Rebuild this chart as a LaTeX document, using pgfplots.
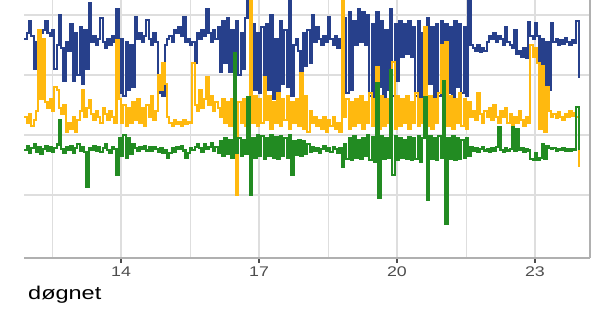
\documentclass[border=0pt]{standalone}
\usepackage{pgfplots}
\usepackage{pgfplotstable}
\usepackage{graphicx}
\usepackage{fontspec}
\setmainfont{Liberation Sans}
\pgfplotsset{compat=1.18}
\definecolor{bluec}{HTML}{27408B}
\definecolor{orangec}{HTML}{FFB90F}
\definecolor{greenc}{HTML}{228B22}
\definecolor{gridc}{HTML}{DEDEDE}
\definecolor{axc}{HTML}{B0B0B0}
\definecolor{tickc}{HTML}{4D4D4D}
\pgfplotstableread{
h b o g
11.90 3.60 2.30 1.75
11.95 3.70 2.20 1.82
12.00 3.90 2.35 1.70
12.05 3.65 2.15 1.78
12.10 3.10 2.25 1.85
12.15 3.55 2.40 1.72
12.20 3.60 3.75 1.80
12.25 3.70 2.60 1.68
12.30 3.75 3.60 1.76
12.35 3.90 2.55 1.82
12.40 3.70 2.45 1.74
12.45 3.65 2.60 1.80
12.50 3.75 2.40 1.72
12.55 3.10 2.80 1.78
12.60 3.50 2.75 1.84
12.65 4.00 2.45 2.25
12.70 3.45 2.35 1.76
12.75 2.90 2.50 1.70
12.80 3.55 2.05 1.80
12.85 3.40 2.20 1.75
12.90 3.85 2.10 1.82
12.95 2.90 2.30 1.70
13.00 3.70 2.05 1.78
13.05 3.00 2.25 1.85
13.10 3.80 2.40 1.74
13.15 2.85 2.75 1.80
13.20 3.75 2.30 1.72
13.25 3.10 2.45 1.13
13.30 4.20 2.58 1.78
13.35 3.55 2.35 1.75
13.40 3.65 2.25 1.82
13.45 3.50 2.40 1.74
13.50 3.60 2.30 1.79
13.55 3.95 2.20 1.72
13.60 3.55 2.45 1.78
13.65 3.45 2.35 1.84
13.70 3.60 2.25 1.75
13.75 3.50 2.40 1.70
13.80 3.65 2.30 1.80
13.85 3.55 2.20 1.76
13.90 4.10 3.58 1.33
13.95 2.70 2.60 1.95
14.00 3.60 2.20 1.65
14.05 2.65 2.50 2.00
14.10 3.55 2.15 1.62
14.15 2.75 2.45 1.95
14.20 3.50 2.20 1.68
14.25 2.80 2.55 1.85
14.30 3.97 2.25 1.78
14.35 3.60 2.60 1.74
14.40 3.70 2.20 1.80
14.45 3.55 2.45 1.76
14.50 3.65 2.15 1.82
14.55 3.92 2.50 1.74
14.60 3.60 2.30 1.79
14.65 3.50 2.65 1.73
14.70 3.70 2.25 1.80
14.75 3.55 2.40 1.76
14.80 2.70 3.00 1.72
14.85 2.80 2.75 1.78
14.90 2.65 3.20 1.70
14.95 3.50 2.85 1.75
15.00 3.60 2.30 1.62
15.05 3.65 2.20 1.70
15.10 3.55 2.15 1.78
15.15 3.75 2.25 1.72
15.20 3.70 2.18 1.80
15.25 3.80 2.22 1.76
15.30 3.65 2.15 1.82
15.35 3.97 2.25 1.74
15.40 3.55 2.18 1.62
15.45 3.60 2.22 1.70
15.50 3.50 2.20 1.78
15.55 3.55 3.20 1.75
15.60 3.20 2.50 1.80
15.65 3.70 2.40 1.85
15.70 3.60 2.75 1.78
15.75 3.75 2.45 1.72
15.80 3.65 2.60 1.84
15.85 4.10 2.97 1.76
15.90 3.70 2.50 1.80
15.95 3.55 2.65 1.86
16.00 3.75 2.40 1.74
16.05 3.60 2.55 1.80
16.10 3.80 2.45 1.70
16.15 3.05 2.30 1.90
16.20 3.90 2.60 1.65
16.25 3.20 2.20 1.95
16.30 3.95 2.55 1.68
16.35 3.05 2.15 1.92
16.40 3.75 2.60 1.62
16.45 3.15 2.25 3.37
16.50 3.90 1.00 1.70
16.55 3.00 2.55 1.95
16.60 3.70 2.20 1.65
16.65 3.10 2.60 1.92
16.70 3.95 2.15 1.68
16.75 4.30 2.50 2.63
16.80 2.65 4.30 1.00
16.85 3.85 2.20 1.95
16.90 2.75 2.65 1.62
16.95 3.70 2.15 2.00
17.00 2.70 2.60 1.65
17.05 3.80 2.20 1.98
17.10 2.90 2.97 1.60
17.15 3.85 2.25 1.95
17.20 2.75 2.65 1.65
17.25 4.00 2.10 2.00
17.30 2.60 2.55 1.62
17.35 3.60 2.20 1.96
17.40 2.70 2.70 1.60
17.45 3.90 2.15 1.98
17.50 2.85 2.60 1.65
17.55 3.75 2.25 1.95
17.60 2.80 2.65 1.62
17.65 4.30 2.10 2.00
17.70 2.65 2.55 1.33
17.75 3.50 2.20 1.90
17.80 3.60 2.60 1.66
17.85 3.40 2.15 1.92
17.90 2.90 3.03 1.65
17.95 3.70 2.10 1.90
18.00 3.15 2.65 1.68
18.05 3.75 2.05 1.85
18.10 3.20 2.40 1.72
18.15 4.00 2.20 1.80
18.20 3.55 2.30 1.74
18.25 3.80 2.15 1.78
18.30 3.60 2.25 1.70
18.35 3.50 2.10 1.76
18.40 3.65 2.30 1.82
18.45 3.55 2.05 1.74
18.50 3.97 2.25 1.78
18.55 3.60 2.15 1.72
18.60 3.50 2.30 1.80
18.65 3.65 2.10 1.76
18.70 3.45 2.20 1.70
18.75 3.60 2.05 1.78
18.80 3.40 4.30 1.47
18.85 3.95 2.30 1.85
18.90 2.70 2.60 1.60
18.95 4.05 2.10 1.95
19.00 2.75 2.55 1.58
19.05 3.90 2.15 1.98
19.10 3.50 2.60 1.62
19.15 4.10 2.20 1.92
19.20 3.55 2.65 1.60
19.25 4.05 2.10 1.95
19.30 3.50 2.55 1.65
19.35 4.00 2.20 2.00
19.40 2.65 2.70 1.58
19.45 3.85 2.15 1.96
19.50 2.60 2.60 1.55
19.55 4.05 3.13 2.87
19.60 2.80 2.10 0.95
19.65 3.90 2.65 1.98
19.70 2.60 2.15 1.60
19.75 3.75 2.60 1.95
19.80 2.75 2.20 1.62
19.85 4.10 2.70 3.08
19.90 2.65 3.22 1.33
19.95 3.85 2.10 1.98
20.00 2.90 2.65 1.58
20.05 3.90 2.15 1.95
20.10 3.30 2.60 1.62
20.15 3.85 2.20 1.92
20.20 3.35 2.65 1.60
20.25 3.90 2.10 1.96
20.30 3.30 2.55 1.58
20.35 3.80 2.20 1.95
20.40 2.65 2.70 1.60
20.45 3.90 2.15 1.98
20.50 2.60 2.60 1.55
20.55 3.70 2.20 1.95
20.60 2.70 3.80 2.63
20.65 3.95 2.15 0.92
20.70 2.85 2.65 1.98
20.75 3.80 2.10 1.60
20.80 2.60 2.60 1.95
20.85 3.85 2.20 1.58
20.90 2.65 2.70 1.98
20.95 3.90 3.50 1.62
21.00 2.60 2.60 2.90
21.05 3.85 3.55 0.52
21.10 2.70 2.15 1.95
21.15 3.80 2.65 1.60
21.20 2.60 2.10 1.98
21.25 3.90 2.60 1.58
21.30 2.80 2.20 1.95
21.35 3.85 2.70 1.60
21.40 2.70 2.15 1.92
21.45 3.80 2.60 1.62
21.50 2.65 2.10 1.95
21.55 4.30 2.55 1.65
21.60 3.50 2.30 1.80
21.65 3.45 2.40 1.74
21.70 3.40 2.25 1.78
21.75 3.50 2.70 1.72
21.80 3.38 2.35 1.76
21.85 3.45 2.20 1.80
21.90 3.40 2.40 1.74
21.95 3.55 2.30 1.77
22.00 3.65 2.45 1.72
22.05 3.60 2.25 1.78
22.10 3.70 2.50 1.74
22.15 3.55 2.30 1.80
22.20 3.65 2.20 2.13
22.25 3.60 2.40 1.75
22.30 3.50 2.30 1.72
22.35 3.80 2.45 1.78
22.40 3.55 2.20 1.74
22.45 3.50 2.35 1.76
22.50 3.45 2.15 2.13
22.55 3.75 2.30 1.74
22.60 3.35 2.20 2.10
22.65 3.40 2.40 1.75
22.70 3.30 2.25 1.78
22.75 3.45 2.15 1.72
22.80 3.28 2.30 1.76
22.85 3.88 2.20 1.74
22.90 3.65 3.50 1.60
22.95 3.60 3.30 1.58
23.00 3.87 3.45 1.70
23.05 3.65 3.20 1.58
23.10 2.70 2.10 1.62
23.15 3.60 3.15 1.85
23.20 2.65 2.05 1.60
23.25 3.55 2.80 1.82
23.30 2.75 2.40 1.78
23.35 3.87 2.30 1.76
23.40 3.55 2.35 1.78
23.45 3.60 2.28 1.74
23.50 3.50 2.38 1.77
23.55 3.58 2.30 1.75
23.60 3.52 2.25 1.78
23.65 3.62 2.35 1.73
23.70 3.55 2.30 1.76
23.75 3.50 2.40 1.74
23.80 3.58 2.32 1.77
23.85 3.54 2.36 1.75
23.90 3.90 2.30 2.47
23.95 2.95 1.47 1.75
}\data
\begin{document}
\begin{tikzpicture}
\path[use as bounding box] (0,0) rectangle (598pt,312pt);
\begin{axis}[
  at={(24pt,54pt)}, anchor=south west,
  scale only axis, width=566pt, height=258pt,
  xmin=11.891, xmax=24.196, ymin=-0.05, ymax=4.25,
  axis x line*=bottom, axis y line*=right,
  axis line style={-},
  x axis line style={draw=axc, line width=1.6pt},
  y axis line style={draw=axc, line width=1.1pt},
  xtick={14,17,20,23},
  xticklabels={\scalebox{1.27}[1]{14},\scalebox{1.27}[1]{17},\scalebox{1.27}[1]{20},\scalebox{1.27}[1]{23}},
  minor xtick={12.5,15.5,18.5,21.5},
  ytick={1,2,3,4}, yticklabels={},
  ytick style={draw=none},
  xtick style={draw=tickc, line width=1.3pt},
  minor tick length=0pt,
  tick align=outside, major tick length=5pt,
  xmajorgrids, xminorgrids, ymajorgrids,
  major grid style={draw=gridc, line width=1.2pt},
  minor grid style={draw=gridc, line width=0.8pt},
  xticklabel style={font=\fontsize{14}{14}\selectfont, text=tickc},
]
\addplot[const plot, draw=bluec, line width=2.2pt] table[x=h, y=b] {\data};
\addplot[const plot, draw=orangec, line width=2.2pt] table[x=h, y=o] {\data};
\addplot[const plot, draw=greenc, line width=2.2pt] table[x=h, y=g] {\data};
\end{axis}
\node[anchor=base west, inner sep=0pt] at (28pt,12pt) {\fontsize{18.5}{18.5}\selectfont\scalebox{1.27}[1]{døgnet}};
\end{tikzpicture}
\end{document}
